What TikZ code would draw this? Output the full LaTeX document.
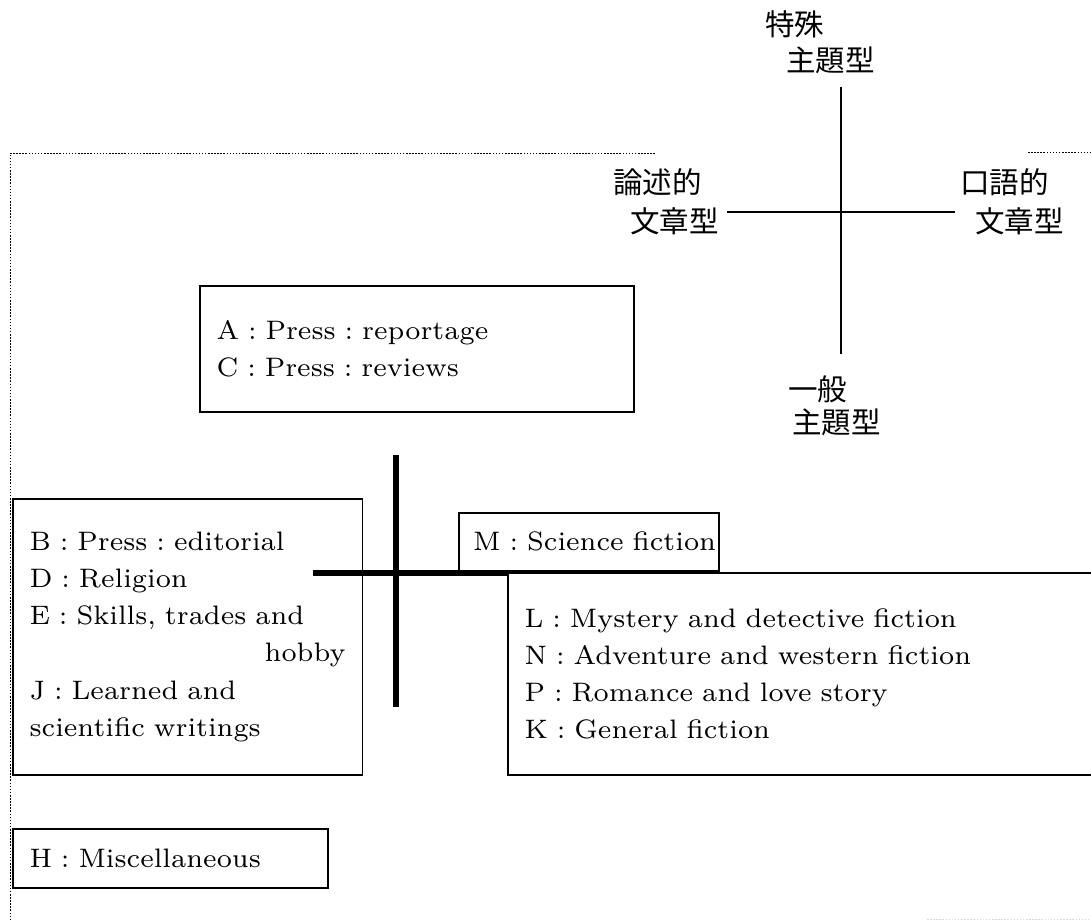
\documentclass[tikz,border=0pt]{standalone}
\usepackage{fontspec}
\newfontfamily\jpfont{Noto Sans CJK JP}
\newfontfamily\genrefamily{lmroman7-regular}[Extension=.otf]
\newcommand{\genrefont}{\genrefamily\fontsize{19}{26.5}\selectfont\frenchspacing\hyphenpenalty=10000}
\newcommand{\jplabelfont}{\jpfont\fontsize{21}{25}\selectfont}
\begin{document}
\begin{tikzpicture}[x=0.025cm, y=-0.025cm,
    genre/.style={draw, line width=1.1pt, anchor=north west, inner xsep=0.42cm, inner ysep=0pt, align=left, font=\genrefont},
    jplabel/.style={anchor=west, inner sep=0pt, font=\jplabelfont},
    thickbar/.style={line width=4.2pt},
    framedot/.style={line width=0.7pt, dash pattern=on 1.1pt off 1.1pt}]
    \useasboundingbox (0,0) rectangle (1091,920);

    \draw[framedot] (655,153) -| (10,920);
    \draw[framedot] (1028,152) -- (1091,152);
    \draw[framedot, gray!30] (927,919) -- (1091,919);

    \coordinate (ot) at (841,87);
    \coordinate (ob) at (841,354);
    \coordinate (ol) at (727,212);
    \coordinate (or) at (955,212);
    \draw[line width=1pt] (ot) -- (ob);
    \draw[line width=1pt] (ol) -- (or);

    \node[jplabel] (sp1) at (765,24) {特殊};
    \node[jplabel] (sp2) at (786,60) {主題型};
    \node[jplabel] (ro1) at (613,182) {論述的};
    \node[jplabel] (ro2) at (630,221) {文章型};
    \node[jplabel] (ko1) at (960,182) {口語的};
    \node[jplabel] (ko2) at (975,221) {文章型};
    \node[jplabel] (ip1) at (788,389) {一般};
    \node[jplabel] (ip2) at (792,422) {主題型};

    \node[genre, text width=10.01cm, minimum height=3.15cm] (ac) at (199,285)
        {A : Press : reportage\\C : Press : reviews};
    \node[genre, text width=7.9cm, minimum height=6.9cm] (bdej) at (12,498)
        {B : Press : editorial\\D : Religion\\E : Skills, trades and\\\mbox{}\hfill hobby\\J : Learned and\\scientific writings};
    \node[genre, text width=7.035cm, minimum height=1.475cm] (h) at (12,828)
        {\mbox{H : Miscellaneous}};
    \node[genre, text width=5.78cm, minimum height=1.45cm, inner xsep=0.36cm] (m) at (458,512)
        {\mbox{M : Science fiction}};
    \node[genre, text width=14.235cm, minimum height=5.05cm] (lnpk) at (507,572)
        {L : Mystery and detective fiction\\N : Adventure and western fiction\\P : Romance and love story\\K : General fiction};

    \coordinate (vt) at (396,455);
    \coordinate (vb) at (396,707);
    \coordinate (hl) at (313,573);
    \draw[thickbar] (vt) -- (vb);
    \draw[thickbar] (hl) -- (hl -| lnpk.north west);
\end{tikzpicture}
\end{document}
